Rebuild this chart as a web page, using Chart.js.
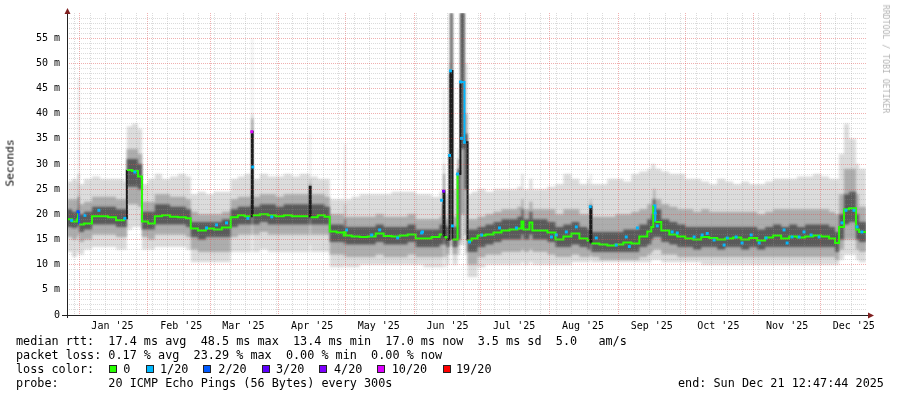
<!DOCTYPE html>
<html>
<head>
<meta charset="utf-8">
<script src="https://cdn.jsdelivr.net/npm/chart.js@4.4.1/dist/chart.umd.min.js"></script>
<style>
  body { margin: 0; background: #fff; }
  #wrap { position: relative; width: 897px; height: 397px; overflow: hidden; font-family: 'DejaVu Sans Mono', monospace; background: #fff; }
  #wrap canvas { position: absolute; left: 0; top: 0; }
  .txt { position: absolute; font-size: 11.8px; line-height: 14px; white-space: pre; color: #000; }
  .sw { position: absolute; top: 365px; width: 6px; height: 6px; border: 1px solid #222; }
  .vert { position: absolute; white-space: pre; transform: translate(-50%, -50%) rotate(-90deg); }
</style>
</head>
<body>
<div id="wrap">
  <canvas id="smoke" width="897" height="397"></canvas>
  <div class="vert" style="left:10px; top:163px; font-size:11.2px; color:#000;">Seconds</div>
  <div class="vert" style="left:886px; top:59px; font-size:8.2px; color:#b4b4b4; transform: translate(-50%, -50%) rotate(90deg);">RRDTOOL / TOBI OETIKER</div>
  <div class="txt" style="left:16px; top:334px;">median rtt:  17.4 ms avg  48.5 ms max  13.4 ms min  17.0 ms now  3.5 ms sd  5.0   am/s</div>
  <div class="txt" style="left:16px; top:348px;">packet loss: 0.17 % avg  23.29 % max  0.00 % min  0.00 % now</div>
  <div class="txt" style="left:16px; top:362px;">loss color:</div>
  <div id="lossLegend"></div>
  <div class="txt" style="left:16px; top:376px;">probe:       20 ICMP Echo Pings (56 Bytes) every 300s</div>
  <div class="txt" style="left:678px; top:376px;">end: Sun Dec 21 12:47:44 2025</div>
</div>
<script>
// time axis: days since 1 Jan 2025 (graph covers the last 360 days)
const startDay = -5.47;
const endDay = 354.53;

const monthNames = ['Jan', 'Feb', 'Mar', 'Apr', 'May', 'Jun', 'Jul', 'Aug', 'Sep', 'Oct', 'Nov', 'Dec'];
const monthStarts = [0, 31, 59, 90, 120, 151, 181, 212, 243, 273, 304, 334];
const yearTag = "'25";

// samples (ms)
const days = [
  -5.5, -3.2, -1.0, -0.5, 0.0, 2.2, 5.8, 9.4, 13.0, 16.6,
  20.2, 21.5, 23.8, 26.5, 28.3, 31.0, 34.1, 37.3, 40.9, 44.5,
  48.1, 50.3, 53.5, 57.1, 60.7, 64.3, 68.3, 71.5, 74.6, 77.3,
  77.8, 78.2, 81.4, 85.0, 88.6, 92.2, 95.8, 99.4, 103.4, 103.9,
  104.3, 107.5, 110.6, 112.9, 116.0, 119.2, 119.6, 120.1, 122.8, 126.4,
  130.0, 133.6, 137.2, 140.8, 144.4, 148.0, 151.6, 155.2, 158.8, 162.4,
  163.7, 164.2, 164.6, 165.5, 166.9, 167.3, 168.2, 170.5, 171.8, 173.6,
  175.0, 176.8, 179.5, 183.1, 186.7, 190.3, 193.9, 197.5, 199.3, 200.2,
  202.9, 204.2, 207.4, 211.0, 214.6, 218.2, 221.8, 225.4, 229.0, 229.9,
  230.3, 230.8, 234.4, 238.0, 241.6, 245.2, 248.8, 252.4, 256.0, 257.8,
  258.7, 259.6, 262.3, 265.9, 269.5, 273.1, 276.7, 280.3, 283.9, 287.5,
  291.1, 294.7, 298.3, 301.9, 305.5, 309.1, 312.7, 316.3, 319.9, 323.5,
  327.1, 330.7, 334.3, 337.9, 340.6, 342.4, 344.6, 346.9, 350.0, 351.4,
  354.6
];

const medianMs = [
  19.0, 18.6, 19.0, 20.5, 18.0, 18.2, 19.6, 19.6, 19.4, 18.8,
  19.2, 28.8, 28.6, 27.5, 18.6, 18.2, 19.6, 19.8, 19.5, 19.4,
  19.2, 17.2, 16.8, 17.2, 17.0, 17.4, 19.4, 19.8, 19.6, 19.6,
  36.4, 19.8, 20.0, 19.8, 19.6, 19.8, 19.6, 19.6, 19.6, 25.5,
  19.4, 19.8, 19.5, 16.6, 16.4, 15.8, 16.5, 15.8, 15.6, 15.5,
  15.6, 16.2, 15.7, 15.6, 15.8, 16.0, 15.2, 15.2, 15.5, 16.0,
  16.0, 24.6, 15.5, 15.0, 31.7, 48.5, 15.0, 28.0, 46.3, 34.3,
  14.8, 15.2, 15.8, 16.0, 16.4, 16.8, 17.0, 17.2, 18.6, 17.0,
  18.4, 16.8, 16.8, 16.4, 15.0, 15.6, 16.2, 15.2, 14.8, 14.6,
  21.5, 14.2, 14.0, 13.8, 14.0, 14.4, 14.2, 15.6, 16.6, 17.5,
  21.8, 18.5, 16.8, 16.0, 15.6, 15.2, 15.0, 15.5, 15.3, 15.0,
  15.2, 15.4, 15.0, 15.3, 14.8, 15.4, 15.8, 15.2, 15.6, 15.4,
  15.6, 15.8, 15.6, 15.2, 14.3, 17.5, 21.0, 21.2, 17.0, 16.5,
  16.5
];

// lost pings out of 20 on the median line itself
const lossCount = [
  0, 0, 0, 2, 0, 0, 0, 0, 0, 0,
  0, 0, 0, 0, 0, 0, 0, 0, 0, 0,
  0, 0, 0, 0, 0, 0, 0, 0, 0, 0,
  10, 0, 0, 0, 0, 0, 0, 0, 0, 0,
  0, 0, 0, 0, 0, 0, 0, 0, 0, 0,
  0, 0, 0, 0, 0, 0, 0, 0, 0, 0,
  0, 3, 0, 0, 1, 1, 0, 1, 1, 1,
  0, 0, 0, 0, 0, 0, 0, 0, 0, 0,
  0, 0, 0, 0, 0, 0, 0, 0, 0, 0,
  1, 0, 0, 0, 0, 0, 0, 0, 0, 0,
  1, 0, 0, 0, 0, 0, 0, 0, 0, 0,
  0, 0, 0, 0, 0, 0, 0, 0, 0, 0,
  0, 0, 0, 0, 0, 0, 0, 0, 0, 0,
  0
];

const smokeMin = [
  12.5, 11.5, 12.5, 12, 12, 13, 13.5, 13.5, 13.5, 13,
  13, 17, 17.5, 17.5, 13, 13, 13.5, 13.5, 13.5, 13.5,
  13, 10.5, 10.5, 10.5, 10.5, 10.5, 12.5, 12.5, 12.5, 12.5,
  17, 12.5, 13, 12.5, 12.5, 12.5, 12.5, 12.5, 12.5, 14,
  12.5, 12.5, 12.5, 9.5, 9.5, 9.5, 10, 9.5, 9.5, 10,
  10, 10, 10, 10, 10, 10, 10, 9.5, 9.5, 9.5,
  9.5, 12, 9.5, 10, 14, 14, 10, 12, 14, 12,
  7.5, 7.5, 9.5, 10, 10, 10, 10, 10, 10.5, 10,
  10.5, 10, 10, 10, 10, 10, 10.5, 10.5, 10.5, 10.5,
  11, 10.5, 10.5, 10.5, 10.5, 10.5, 10.5, 10.5, 10.5, 11,
  11, 11, 10.5, 10.5, 10.5, 10.5, 10.5, 10, 10, 10,
  10, 10, 10, 10, 10, 10, 10, 10, 10, 10,
  10, 10, 10, 10, 10, 11, 12, 12, 11, 10.5,
  10.5
];

const smokeMax = [
  26.5, 27, 26.5, 47, 26, 27, 27.5, 27, 27, 27,
  26.5, 37.5, 38, 37, 26, 27, 28, 27, 27.5, 28,
  27.5, 24, 24.5, 24, 24.5, 24.5, 27, 27.5, 28, 28,
  55, 27, 28, 27.5, 27.5, 28, 27.5, 28, 28, 36,
  27.5, 27, 27, 23, 23, 23, 34, 23, 23.5, 24,
  24, 24, 24, 24.5, 24.5, 24.5, 24, 24, 23.5, 24.5,
  24, 45, 24, 24, 60, 60, 25, 33, 60, 50,
  24, 24.5, 25, 24.5, 25, 25, 25, 25.5, 28, 25,
  27, 25, 25, 25.5, 26, 28, 27, 26, 27, 26,
  28, 26, 26, 27, 27, 26.5, 28, 28.5, 29, 30,
  30, 29, 28.5, 28, 28, 27, 27, 26.5, 26, 27,
  26.5, 26, 26.5, 26, 26, 26.5, 27, 27, 27, 27.5,
  27.5, 28, 27.5, 27, 27, 32, 38, 35, 30, 29,
  29
];

const midLo = [
  15.5, 15, 15.5, 16, 14.5, 15, 16, 16, 16, 15.5,
  15.5, 22, 22, 21.5, 15.5, 15, 16, 16, 16, 16,
  15.5, 13, 12.5, 12.5, 12.5, 12.5, 15.5, 16, 16, 16,
  20, 16, 16.5, 16, 16, 16, 16, 16, 16, 18,
  16, 16, 16, 12, 12, 11.5, 12, 11.5, 11.5, 11.5,
  11.5, 12, 11.5, 11.5, 11.5, 12, 11.5, 11.5, 11.5, 11.5,
  11.5, 14, 11.5, 12, 16, 16, 12, 14, 20, 16,
  10, 10, 11.5, 12, 12, 12.5, 12.5, 12.5, 13, 12.5,
  13, 12.5, 12.5, 12, 11.5, 11.5, 12, 11.5, 11.5, 11.5,
  12, 11.5, 11, 11, 11, 11, 11, 11.5, 12, 12.5,
  13, 13, 12, 12, 11.5, 11.5, 11.5, 11.5, 11.5, 11.5,
  11.5, 11.5, 11.5, 11.5, 11.5, 11.5, 11.5, 11.5, 11.5, 11.5,
  11.5, 11.5, 11.5, 11.5, 11, 13, 15, 15, 13, 12.5,
  12.5
];

const midHi = [
  23, 23, 23, 28, 22, 22.5, 23.5, 23.5, 23.5, 23,
  23, 33, 33, 32, 22.5, 22.5, 24, 24, 23.5, 23.5,
  23, 20.5, 20, 20, 20, 20.5, 23, 23.5, 23.5, 24,
  40, 23.5, 24, 24, 23.5, 24, 24, 24, 24, 27,
  24, 24, 23.5, 20, 20, 19.5, 22, 19.5, 19.5, 19.5,
  19.5, 20, 19.5, 19.5, 19.5, 20, 19, 19, 19, 19.5,
  21, 30, 19.5, 19, 50, 60, 19.5, 31, 60, 40,
  19, 19, 19.5, 20, 20.5, 21, 21, 21.5, 23, 21,
  22.5, 21, 21, 21, 20, 21, 21, 20, 20, 20,
  23, 19.5, 19.5, 19.5, 20, 20, 20.5, 21, 22, 23,
  25, 23, 22, 21.5, 21, 21, 20.5, 21, 20.5, 20.5,
  20.5, 20.5, 20.5, 20.5, 20, 20.5, 21, 21, 21, 21,
  21, 21, 21, 20.5, 20, 24, 29, 29, 24, 21.5,
  21.5
];

const coreLo = [
  17.5, 17.3, 17.5, 18, 16.5, 17, 18, 18, 18, 17.5,
  17.5, 25.5, 25.5, 25, 17, 17, 18, 18, 18, 18,
  17.5, 15.5, 15, 15.5, 15.5, 15.5, 17.5, 18, 18, 18,
  21, 18, 18.5, 18, 18, 18, 18, 18, 18, 19,
  18, 18, 18, 14.5, 14.5, 14, 14.5, 14, 14, 14,
  14, 14.5, 14, 14, 14, 14.5, 13.5, 13.5, 13.5, 14,
  14, 15, 14, 13.5, 17, 17.5, 13.5, 15, 33, 25,
  12.5, 12.5, 13.5, 14, 14.5, 15, 15, 15, 16, 15,
  16, 15, 15, 14.5, 13.5, 13.5, 14, 13.5, 13, 13,
  14, 12.5, 12.5, 12.5, 12.5, 12.5, 12.5, 13.5, 14, 15,
  15.5, 15.5, 14.5, 14, 13.5, 13.5, 13, 13.5, 13.5, 13,
  13.5, 13.5, 13, 13.5, 13, 13.5, 13.5, 13.5, 13.5, 13.5,
  13.5, 13.5, 13.5, 13.5, 12.5, 15, 18, 18.5, 15, 14.5,
  14.5
];

const coreHi = [
  21, 20.5, 21, 23.5, 20, 20.5, 21.5, 21.5, 21.5, 21,
  21, 31, 31, 30, 20.5, 20.5, 22, 22, 21.5, 21.5,
  21, 18.5, 18.5, 18.5, 18.5, 19, 21, 21.5, 21.5, 22,
  39, 21.5, 22, 22, 21.5, 22, 22, 22, 22, 26,
  22, 22, 21.5, 18, 18, 17.5, 19, 17.5, 17.5, 17.5,
  17.5, 18, 17.5, 17.5, 17.5, 18, 17, 17, 17, 18,
  22, 28, 18, 17.5, 48, 60, 17.5, 29, 60, 36,
  17, 17, 17.5, 18, 18.5, 19, 19, 19.5, 21, 19,
  20.5, 19, 19, 18.5, 17.5, 18, 18.5, 17.5, 17, 17,
  22, 16.5, 16.5, 16.5, 16.5, 17, 17, 18, 19, 20,
  23, 21, 19, 18.5, 18, 17.5, 17.5, 17.5, 17.5, 17.5,
  17.5, 17.5, 17.5, 17.5, 17, 17.5, 18, 17.5, 18, 17.5,
  18, 18, 18, 17.5, 16.5, 20, 24, 24.5, 20, 18.5,
  18.5
];

// single median readings with packet loss (coloured dots)
const lossDotDays = [
  -3.4, 2.6, 8.9, 20.6, 25.1, 57.4, 61.9, 66.4, 76.0, 78.2,
  86.8, 120.5, 131.8, 135.4, 143.5, 154.3, 154.7, 163.3, 168.2, 175.9,
  181.3, 189.4, 197.0, 212.8, 215.0, 219.5, 224.0, 233.0, 242.0, 246.5,
  247.9, 251.5, 259.5, 260.5, 267.2, 269.5, 277.1, 280.7, 283.0, 286.1,
  290.6, 292.0, 296.0, 298.7, 302.8, 306.4, 309.5, 317.6, 319.0, 321.2,
  324.4, 326.6, 329.8, 333.4, 343.7, 345.5, 349.1, 350.5, 352.7, -0.5,
  77.8, 164.2, 166.9, 167.3, 170.5, 171.8, 172.3, 173.6, 230.3
];
const lossDotMs = [
  18.8, 19.8, 20.8, 19.2, 28.4, 17.3, 17.9, 18.3, 19.2, 29.4,
  19.5, 16.9, 15.9, 16.9, 15.3, 16.3, 16.5, 22.8, 17.7, 14.5,
  15.9, 17.3, 17.3, 15.5, 15.9, 16.5, 17.5, 15.3, 13.9, 15.5,
  13.6, 17.3, 20.2, 17.7, 16.5, 16.3, 15.5, 15.9, 16.2, 14.9,
  13.9, 15.3, 15.5, 14.3, 15.9, 14.3, 15.3, 16.9, 14.3, 15.5,
  15.5, 16.5, 15.9, 15.5, 18.3, 20.8, 20.8, 17.5, 16.5, 20.5,
  36.4, 24.6, 31.7, 48.5, 28.0, 46.3, 35.1, 34.3, 21.5
];
const lossDotLevel = [
  1, 1, 1, 1, 1, 1, 1, 1, 1, 1,
  1, 1, 1, 1, 1, 1, 1, 1, 1, 1,
  1, 1, 1, 1, 1, 1, 1, 1, 1, 1,
  1, 1, 1, 1, 1, 1, 1, 1, 1, 1,
  1, 1, 1, 1, 1, 1, 1, 1, 1, 1,
  1, 1, 1, 1, 1, 1, 1, 1, 1, 2,
  10, 4, 1, 1, 1, 1, 1, 1, 1
];

// loss colour legend
const lossSteps = [0, 1, 2, 3, 4, 10, 19];
const lossLabels = ['0', '1/20', '2/20', '3/20', '4/20', '10/20', '19/20'];
const lossPalette = ['#26ff00', '#00b8ff', '#0059ff', '#5e00ff', '#7e00ff', '#dd00ff', '#ff0000'];

// layout of the swatches in the legend line
const swatchX = [108.7, 145.7, 203.3, 261.7, 319.3, 376.7, 442.7];
const swatchLabelX = [123.3, 160, 218.3, 276, 334, 391.7, 456];

function lossColor(n) {
    let c = lossPalette[0];
    lossSteps.forEach((s, i) => { if (n >= s) c = lossPalette[i]; });
    return c;
}

function buildLossLegend() {
    const box = document.getElementById('lossLegend');
    lossLabels.forEach((lab, i) => {
        const sw = document.createElement('div');
        sw.className = 'sw';
        sw.style.left = swatchX[i] + 'px';
        sw.style.background = lossPalette[i];
        box.appendChild(sw);
        const t = document.createElement('div');
        t.className = 'txt';
        t.style.left = swatchLabelX[i] + 'px';
        t.style.top = '362px';
        t.textContent = lab;
        box.appendChild(t);
    });
}

// x grid: month starts (major), mondays (minor), labels mid month
const xTicks = [];
const xKinds = [];
function buildXTicks() {
    const all = [];
    monthStarts.forEach(d => all.push({ v: d, k: 'major' }));
    for (let d = -2; d < endDay; d += 7) {
        if (d > startDay && !monthStarts.includes(d)) all.push({ v: d, k: 'minor' });
    }
    monthStarts.forEach((d, i) => all.push({ v: d + 15, k: 'label', m: i }));
    all.sort((a, b) => a.v - b.v);
    all.forEach(t => { xTicks.push(t); xKinds.push(t.k); });
}

const yTickValues = [];
for (let v = 0; v < 60; v++) yTickValues.push(v);

const minorGrid = 'rgba(143,143,143,0.32)';
const majorGrid = 'rgba(222,79,79,0.45)';
const jumpColor = '#1c1c1c';

const pts = arr => days.map((d, i) => ({ x: d, y: arr[i] }));

function band(arr, fillColor) {
    return {
        data: pts(arr),
        stepped: true,
        borderWidth: 0,
        borderColor: 'rgba(0,0,0,0)',
        pointRadius: 0,
        fill: fillColor ? '+1' : false,
        backgroundColor: fillColor || 'rgba(0,0,0,0)'
    };
}

// median connector: short spikes look like the dark smoke column
function medianSegColor(c) {
    const jump = Math.abs(c.p1.parsed.y - c.p0.parsed.y);
    const span = c.p1.parsed.x - c.p0.parsed.x;
    if (jump > 5 && span < 1.5) return jumpColor;
    return lossColor(lossCount[c.p0DataIndex]);
}

// soften the smoke layers a little, the median stays sharp
const smokeSoft = {
    id: 'smokeSoft',
    beforeDatasetsDraw(chart) { chart.ctx.filter = 'blur(0.9px)'; },
    afterDatasetDraw(chart, args) { if (args.index === 2) chart.ctx.filter = 'none'; },
    afterDatasetsDraw(chart) { chart.ctx.filter = 'none'; }
};

// axis lines and arrows like rrdtool
const rrdAxes = {
    id: 'rrdAxes',
    afterDraw(chart) {
        const { ctx, chartArea: a } = chart;
        const x0 = Math.round(a.left) + 0.5;
        const y0 = Math.round(a.bottom) + 0.5;
        ctx.save();
        ctx.strokeStyle = '#222';
        ctx.lineWidth = 1;
        ctx.beginPath();
        ctx.moveTo(x0, a.bottom + 3);
        ctx.lineTo(x0, a.top - 3);
        ctx.moveTo(a.left - 5, y0);
        ctx.lineTo(a.right + 3, y0);
        ctx.stroke();
        ctx.fillStyle = '#802020';
        ctx.beginPath();
        ctx.moveTo(x0, a.top - 5);
        ctx.lineTo(x0 - 3, a.top + 1);
        ctx.lineTo(x0 + 3, a.top + 1);
        ctx.closePath();
        ctx.fill();
        ctx.beginPath();
        ctx.moveTo(a.right + 8, y0);
        ctx.lineTo(a.right + 2, y0 - 3);
        ctx.lineTo(a.right + 2, y0 + 3);
        ctx.closePath();
        ctx.fill();
        ctx.restore();
    }
};

function initChart() {
    Chart.defaults.font.family = "'DejaVu Sans Mono', monospace";
    buildXTicks();
    const ctx = document.getElementById('smoke').getContext('2d');
    new Chart(ctx, {
        type: 'line',
        data: {
            datasets: [
                {
                    label: 'loss',
                    data: lossDotDays.map((d, i) => ({ x: d, y: lossDotMs[i] })),
                    showLine: false,
                    pointStyle: 'rect',
                    pointRadius: 2.1,
                    pointBorderWidth: 0,
                    pointBackgroundColor: c => lossColor(lossDotLevel[c.dataIndex])
                },
                {
                    label: 'median rtt',
                    data: pts(medianMs),
                    stepped: true,
                    borderWidth: 2,
                    pointRadius: 0,
                    fill: false,
                    borderColor: lossPalette[0],
                    segment: { borderColor: medianSegColor }
                },
                band(coreHi, '#5a5a5a'),
                band(coreLo),
                band(midHi, '#adadad'),
                band(midLo),
                band(smokeMax, '#dcdcdc'),
                band(smokeMin)
            ]
        },
        options: {
            responsive: false,
            animation: false,
            devicePixelRatio: 1,
            layout: { padding: { top: 12.6, right: 31, left: 0, bottom: 0 } },
            plugins: { legend: { display: false }, tooltip: { enabled: false } },
            scales: {
                x: {
                    type: 'linear',
                    min: startDay,
                    max: endDay,
                    afterBuildTicks: ax => { ax.ticks = xTicks.map(t => ({ value: t.v })); },
                    afterFit: ax => { ax.height = 82; },
                    ticks: {
                        autoSkip: false,
                        maxRotation: 0,
                        padding: 5,
                        color: '#000',
                        font: { size: 10 },
                        callback: (v, i) => xTicks[i].k === 'label' ? monthNames[xTicks[i].m] + ' ' + yearTag : ''
                    },
                    grid: {
                        drawTicks: false,
                        z: 1,
                        lineWidth: 1,
                        color: c => xKinds[c.index] === 'major' ? majorGrid : (xKinds[c.index] === 'minor' ? minorGrid : 'rgba(0,0,0,0)')
                    },
                    border: { display: false, dash: [1, 1] }
                },
                y: {
                    type: 'linear',
                    min: 0,
                    max: 60,
                    afterBuildTicks: ax => { ax.ticks = yTickValues.map(v => ({ value: v })); },
                    afterFit: ax => { ax.width = 67; },
                    ticks: {
                        autoSkip: false,
                        padding: 7,
                        color: '#000',
                        font: { size: 10 },
                        callback: v => v % 5 === 0 ? (v === 0 ? '0' : v + ' m') : ''
                    },
                    grid: {
                        drawTicks: false,
                        z: 1,
                        lineWidth: 1,
                        color: c => (c.tick && c.tick.value % 5 === 0) ? majorGrid : minorGrid
                    },
                    border: { display: false, dash: [1, 1] }
                }
            }
        },
        plugins: [smokeSoft, rrdAxes]
    });
}

document.addEventListener('DOMContentLoaded', function () {
    buildLossLegend();
    initChart();
});
</script>
</body>
</html>
